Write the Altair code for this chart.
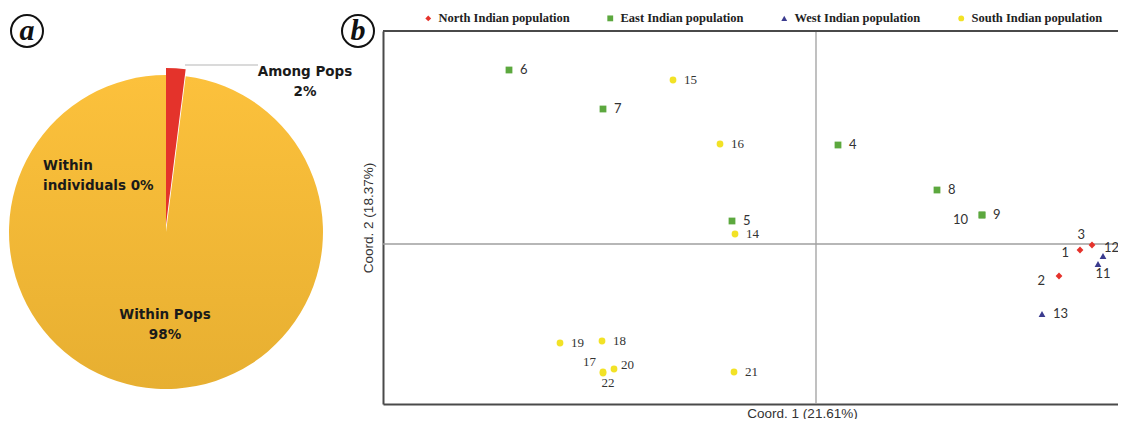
import altair as alt
import pandas as pd

# ---------------- data ----------------
# Panel a: AMOVA components (percent of variation)
components = ["Among Pops", "Within Pops", "Within individuals"]
percents = [2, 98, 0]

# Panel b: PCoA coordinates of 22 populations
point_ids = [str(i) for i in range(1, 23)]
coord1 = [2.64, 2.43, 2.76, 0.22, -0.84, -3.07, -2.13, 1.21, 1.66, 1.66, 2.82,
          2.87, 2.26, -0.81, -1.43, -0.96, -2.13, -2.14, -2.56, -2.02, -0.82, -2.13]
coord2 = [-0.06, -0.32, -0.01, 0.99, 0.23, 1.74, 1.35, 0.54, 0.29, 0.29, -0.20,
          -0.12, -0.70, 0.10, 1.64, 1.00, -1.28, -0.97, -0.99, -1.25, -1.28, -1.29]
region = ["North", "North", "North",
          "East", "East", "East", "East", "East", "East", "East",
          "West", "West", "West",
          "South", "South", "South", "South", "South", "South", "South", "South", "South"]
label_side = ["l", "bl", "ul", "r", "r", "r", "r", "r", "r", "bl", "b",
              "ur", "r", "r", "r", "r", "ul", "r", "r", "ru", "r", "b"]
legend_names = ["North Indian population", "East Indian population",
                "West Indian population", "South Indian population"]
legend_colors = ["#E5322B", "#5CA83E", "#3B3B8E", "#F2E226"]
legend_shapes = ["diamond", "square", "triangle-up", "circle"]

# ---------------- tables ----------------
region_full = {"North": legend_names[0], "East": legend_names[1],
               "West": legend_names[2], "South": legend_names[3]}
pts = pd.DataFrame({"id": point_ids, "x": coord1, "y": coord2,
                    "pop": [region_full[r] for r in region],
                    "side": label_side, "region": region})

pie = pd.DataFrame({"component": components, "pct": percents})
pie["end"] = pie["pct"].cumsum()
pie["start"] = pie["end"] - pie["pct"]

one = pd.DataFrame({"k": [0]})

# ---------------- layout constants ----------------
W, H = 735, 373
PIE_CX, PIE_CY, PIE_R = -217, 201, 157

xs = alt.Scale(domain=[-4.33, 3.02], nice=False, zero=False)
ys = alt.Scale(domain=[-1.60, 2.13], nice=False, zero=False)
X = alt.X("x:Q", scale=xs, axis=alt.Axis(title="Coord. 1 (21.61%)", titleX=419, titlePadding=2))
Y = alt.Y("y:Q", scale=ys, axis=alt.Axis(title="Coord. 2 (18.37%)", titlePadding=8))

# ---------------- panel b ----------------
vline = alt.Chart(pd.DataFrame({"x": [0]})).mark_rule(color="#9f9f9f", strokeWidth=1.3).encode(x=X)
hline = alt.Chart(pd.DataFrame({"y": [0]})).mark_rule(color="#9f9f9f", strokeWidth=1.3).encode(y=Y)

points = alt.Chart(pts).mark_point(filled=True, opacity=1, size=46).encode(
    x=X, y=Y,
    color=alt.Color("pop:N", scale=alt.Scale(domain=legend_names, range=legend_colors), title=None),
    shape=alt.Shape("pop:N", scale=alt.Scale(domain=legend_names, range=legend_shapes), title=None),
)

side_style = {
    "r": dict(align="left", dx=11, dy=0),
    "l": dict(align="right", dx=-11, dy=3),
    "bl": dict(align="right", dx=-14, dy=5),
    "ul": dict(align="right", dx=-7, dy=-10),
    "ur": dict(align="left", dx=1, dy=-8),
    "ru": dict(align="left", dx=7, dy=-4),
    "b": dict(align="center", dx=5, dy=10),
}
label_layers = []
for side, st in side_style.items():
    for serif in (True, False):
        cond = (alt.datum.side == side) & ((alt.datum.region == "South") if serif else (alt.datum.region != "South"))
        label_layers.append(
            alt.Chart(pts).transform_filter(cond).mark_text(
                baseline="middle", fontSize=13, color="#333333",
                font="Liberation Serif" if serif else "Lato", **st
            ).encode(x=X, y=Y, text="id:N")
        )

top_border = alt.Chart(one).mark_rule(color="#4a4a4a", strokeWidth=2).encode(
    x=alt.value(0), x2=alt.value(W), y=alt.value(0))

# ---------------- panel a ----------------
theta_scale = alt.Scale(domain=[0, 100], range=[0, 6.283185307179586])
gold = {"gradient": "linear", "x1": 0, "y1": 0, "x2": 0, "y2": 1,
        "stops": [{"offset": 0, "color": "#FCC13C"}, {"offset": 1, "color": "#E7AF31"}]}

pie_big = alt.Chart(pie).transform_filter(alt.datum.component == "Within Pops").mark_arc(
    outerRadius=PIE_R, fill=gold).encode(
    theta=alt.Theta("start:Q", scale=theta_scale), theta2="end:Q",
    x=alt.value(PIE_CX), y=alt.value(PIE_CY))
pie_red = alt.Chart(pie).transform_filter(alt.datum.component == "Among Pops").mark_arc(
    outerRadius=PIE_R, fill="#E4332B").encode(
    theta=alt.Theta("start:Q", scale=theta_scale), theta2="end:Q",
    x=alt.value(PIE_CX), y=alt.value(PIE_CY - 7))

leader = alt.Chart(one).mark_rule(color="#b5b5b5", strokeWidth=1).encode(
    x=alt.value(-198), x2=alt.value(-125), y=alt.value(34))

pie_font = dict(font="DejaVu Sans", fontWeight="bold", fontSize=13.5, color="#1a1a1a",
                lineHeight=20, baseline="middle")
lab_among = alt.Chart(pie).transform_filter(alt.datum.component == "Among Pops").transform_calculate(
    lines="[datum.component, datum.pct + '%']").mark_text(align="center", **pie_font).encode(
    text="lines:N", x=alt.value(-78), y=alt.value(41))
lab_within = alt.Chart(pie).transform_filter(alt.datum.component == "Within Pops").transform_calculate(
    lines="[datum.component, datum.pct + '%']").mark_text(align="center", **pie_font).encode(
    text="lines:N", x=alt.value(-218), y=alt.value(284))
lab_indiv = alt.Chart(pie).transform_filter(alt.datum.component == "Within individuals").transform_calculate(
    lines="['Within', 'individuals ' + datum.pct + '%']").mark_text(align="left", **pie_font).encode(
    text="lines:N", x=alt.value(-340), y=alt.value(135))

# panel letters
letter_layers = []
for letter, lx in (("a", -356), ("b", -25)):
    letter_layers.append(alt.Chart(one).mark_point(shape="circle", size=1024, filled=False,
                                                   stroke="#111111", strokeWidth=2, opacity=1).encode(
        x=alt.value(lx), y=alt.value(0)))
    letter_layers.append(alt.Chart(one).mark_text(font="Liberation Serif", fontStyle="italic",
                                                  fontWeight="bold", fontSize=30, color="#111111",
                                                  align="center", baseline="alphabetic").encode(
        text=alt.value(letter), x=alt.value(lx), y=alt.value(9)))

chart = alt.layer(
    vline, hline, points, *label_layers, top_border,
    pie_big, pie_red, leader, lab_among, lab_within, lab_indiv, *letter_layers
).properties(
    width=W, height=H,
    autosize=alt.AutoSizeParams(type="none"),
    padding={"left": 375, "top": 23, "right": 0, "bottom": 15},
).configure_view(stroke=None).configure_axis(
    grid=False, ticks=False, labels=False, domainColor="#4a4a4a", domainWidth=2,
    titleFont="Liberation Sans", titleFontSize=13.5, titleFontWeight="normal", titleColor="#333333",
).configure_legend(
    orient="none", legendX=39, legendY=-19, direction="horizontal", columns=4,
    labelFont="Liberation Serif", labelFontWeight="bold", labelFontSize=12.5, labelColor="#222222",
    symbolSize=34, labelOffset=4, columnPadding=34, padding=0, symbolStrokeWidth=0,
)

chart.save("out.html", embed_options={"renderer": "svg", "actions": False})
